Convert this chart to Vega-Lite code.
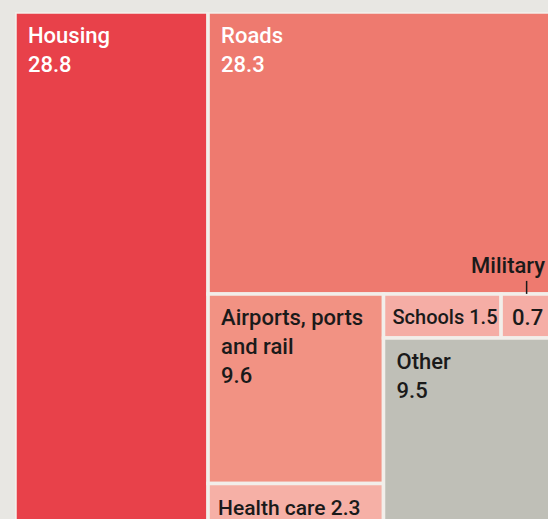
{
  "$schema": "https://vega.github.io/schema/vega-lite/v6.json",
  "width": 533,
  "height": 507,
  "autosize": "none",
  "padding": {"left": 15, "top": 12, "right": 0, "bottom": 0},
  "background": "#e8e7e3",
  "config": {"view": {"stroke": null}},
  "data": {
    "values": [
      {"i": 1, "name": "Housing", "value": 28.8, "text": "Housing\n28.8", "l1": "Housing", "l2": "Housing", "l3": "Housing", "l4": "Housing", "l5": "Housing"},
      {"i": 2, "name": "Roads", "value": 28.3, "text": "Roads\n28.3", "l1": "Right", "l2": "Roads", "l3": "Roads", "l4": "Roads", "l5": "Roads"},
      {"i": 3, "name": "Airports, ports and rail", "value": 9.6, "text": "Airports, ports\nand rail\n9.6", "l1": "Right", "l2": "Lower", "l3": "A", "l4": "Airports", "l5": "Airports"},
      {"i": 4, "name": "Health care", "value": 2.3, "text": "Health care 2.3", "l1": "Right", "l2": "Lower", "l3": "A", "l4": "Health", "l5": "Health"},
      {"i": 5, "name": "Schools", "value": 1.5, "text": "Schools 1.5", "l1": "Right", "l2": "Lower", "l3": "B", "l4": "SM", "l5": "Schools"},
      {"i": 6, "name": "Military", "value": 0.7, "text": "0.7", "l1": "Right", "l2": "Lower", "l3": "B", "l4": "SM", "l5": "Military"},
      {"i": 7, "name": "Other", "value": 9.5, "text": "Other\n9.5", "l1": "Right", "l2": "Lower", "l3": "B", "l4": "Other", "l5": "Other"}
    ]
  },
  "transform": [
    {"joinaggregate": [{"op": "sum", "field": "value", "as": "p1"}]},
    {"window": [{"op": "sum", "field": "value", "as": "c1"}], "sort": [{"field": "i"}], "frame": [null, 0]},
    {"calculate": "datum.c1 - datum.value", "as": "r1"},
    {"joinaggregate": [{"op": "min", "field": "r1", "as": "s1"}, {"op": "sum", "field": "value", "as": "v1"}], "groupby": ["l1"]},
    {"window": [{"op": "sum", "field": "value", "as": "c2"}], "sort": [{"field": "i"}], "frame": [null, 0], "groupby": ["l1"]},
    {"calculate": "datum.c2 - datum.value", "as": "r2"},
    {"joinaggregate": [{"op": "min", "field": "r2", "as": "s2"}, {"op": "sum", "field": "value", "as": "v2"}], "groupby": ["l2"]},
    {"window": [{"op": "sum", "field": "value", "as": "c3"}], "sort": [{"field": "i"}], "frame": [null, 0], "groupby": ["l2"]},
    {"calculate": "datum.c3 - datum.value", "as": "r3"},
    {"joinaggregate": [{"op": "min", "field": "r3", "as": "s3"}, {"op": "sum", "field": "value", "as": "v3"}], "groupby": ["l3"]},
    {"window": [{"op": "sum", "field": "value", "as": "c4"}], "sort": [{"field": "i"}], "frame": [null, 0], "groupby": ["l3"]},
    {"calculate": "datum.c4 - datum.value", "as": "r4"},
    {"joinaggregate": [{"op": "min", "field": "r4", "as": "s4"}, {"op": "sum", "field": "value", "as": "v4"}], "groupby": ["l4"]},
    {"window": [{"op": "sum", "field": "value", "as": "c5"}], "sort": [{"field": "i"}], "frame": [null, 0], "groupby": ["l4"]},
    {"calculate": "datum.c5 - datum.value", "as": "r5"},
    {"joinaggregate": [{"op": "min", "field": "r5", "as": "s5"}, {"op": "sum", "field": "value", "as": "v5"}], "groupby": ["l5"]},
    {"calculate": "datum.s1 / datum.p1", "as": "xa0"},
    {"calculate": "(datum.s1 + datum.v1) / datum.p1", "as": "xa1"},
    {"calculate": "datum.s2 / datum.v1", "as": "yb0"},
    {"calculate": "(datum.s2 + datum.v2) / datum.v1", "as": "yb1"},
    {"calculate": "datum.xa0 + (datum.xa1 - datum.xa0) * datum.s3 / datum.v2", "as": "xc0"},
    {"calculate": "datum.xa0 + (datum.xa1 - datum.xa0) * (datum.s3 + datum.v3) / datum.v2", "as": "xc1"},
    {"calculate": "datum.yb0 + (datum.yb1 - datum.yb0) * datum.s4 / datum.v3", "as": "yd0"},
    {"calculate": "datum.yb0 + (datum.yb1 - datum.yb0) * (datum.s4 + datum.v4) / datum.v3", "as": "yd1"},
    {"calculate": "datum.xc0 + (datum.xc1 - datum.xc0) * datum.s5 / datum.v4", "as": "xe0"},
    {"calculate": "datum.xc0 + (datum.xc1 - datum.xc0) * (datum.s5 + datum.v5) / datum.v4", "as": "xe1"}
  ],
  "encoding": {
    "x": {"field": "xe0", "type": "quantitative", "scale": {"domain": [0, 1], "range": [0, 541], "nice": false, "zero": false}, "axis": null},
    "y": {"field": "yd0", "type": "quantitative", "scale": {"domain": [0, 1], "range": [0, 517], "nice": false, "zero": false}, "axis": null}
  },
  "layer": [
    {
      "mark": {"type": "rect", "stroke": "#f2eeea", "strokeWidth": 3.5, "clip": true},
      "encoding": {
        "x2": {"field": "xe1"},
        "y2": {"field": "yd1"},
        "color": {
          "field": "name",
          "type": "nominal",
          "legend": null,
          "scale": {
            "domain": ["Housing", "Roads", "Airports, ports and rail", "Health care", "Schools", "Military", "Other"],
            "range": ["#e8414a", "#ee7a6f", "#f29283", "#f6b0a6", "#f5ada5", "#f5ada5", "#bfbfb7"]
          }
        }
      }
    },
    {
      "transform": [{"filter": "datum.name == 'Housing' || datum.name == 'Roads'"}],
      "mark": {"type": "text", "align": "left", "baseline": "alphabetic", "dx": 13, "dy": 31, "lineBreak": "\n", "lineHeight": 29, "font": "Roboto", "fontSize": 22, "fontWeight": 500, "color": "#ffffff"},
      "encoding": {"text": {"field": "text"}}
    },
    {
      "transform": [{"filter": "datum.name == 'Airports, ports and rail' || datum.name == 'Other'"}],
      "mark": {"type": "text", "align": "left", "baseline": "alphabetic", "dx": 13, "dy": 31, "lineBreak": "\n", "lineHeight": 29, "font": "Roboto", "fontSize": 22, "fontWeight": 500, "color": "#1a1a1a"},
      "encoding": {"text": {"field": "text"}}
    },
    {
      "transform": [{"filter": "datum.name == 'Health care'"}],
      "mark": {"type": "text", "align": "left", "baseline": "alphabetic", "dx": 10, "dy": 31, "font": "Roboto", "fontSize": 21, "fontWeight": 500, "color": "#1a1a1a"},
      "encoding": {"text": {"field": "text"}}
    },
    {
      "transform": [{"filter": "datum.name == 'Military'"}],
      "mark": {"type": "text", "align": "left", "baseline": "alphabetic", "dx": 11, "dy": 31, "font": "Roboto", "fontSize": 22, "fontWeight": 500, "color": "#1a1a1a"},
      "encoding": {"text": {"field": "text"}}
    },
    {
      "transform": [{"filter": "datum.name == 'Schools'"}],
      "mark": {"type": "text", "align": "left", "baseline": "alphabetic", "dx": 9, "dy": 30, "font": "Roboto", "fontSize": 20, "fontWeight": 500, "color": "#1a1a1a"},
      "encoding": {"text": {"field": "text"}}
    },
    {
      "transform": [{"filter": "datum.name == 'Military'"}],
      "mark": {"type": "text", "align": "left", "baseline": "alphabetic", "dx": -30, "dy": -21, "font": "Roboto", "fontSize": 22, "fontWeight": 500, "color": "#1a1a1a"},
      "encoding": {"text": {"field": "name"}}
    },
    {
      "transform": [{"filter": "datum.name == 'Military'"}],
      "mark": {"type": "rule", "color": "#1a1a1a", "strokeWidth": 1.5, "xOffset": 25.5, "x2Offset": 25.5, "yOffset": -13, "y2Offset": 0},
      "encoding": {"x2": {"field": "xe0"}, "y2": {"field": "yd0"}}
    }
  ]
}
